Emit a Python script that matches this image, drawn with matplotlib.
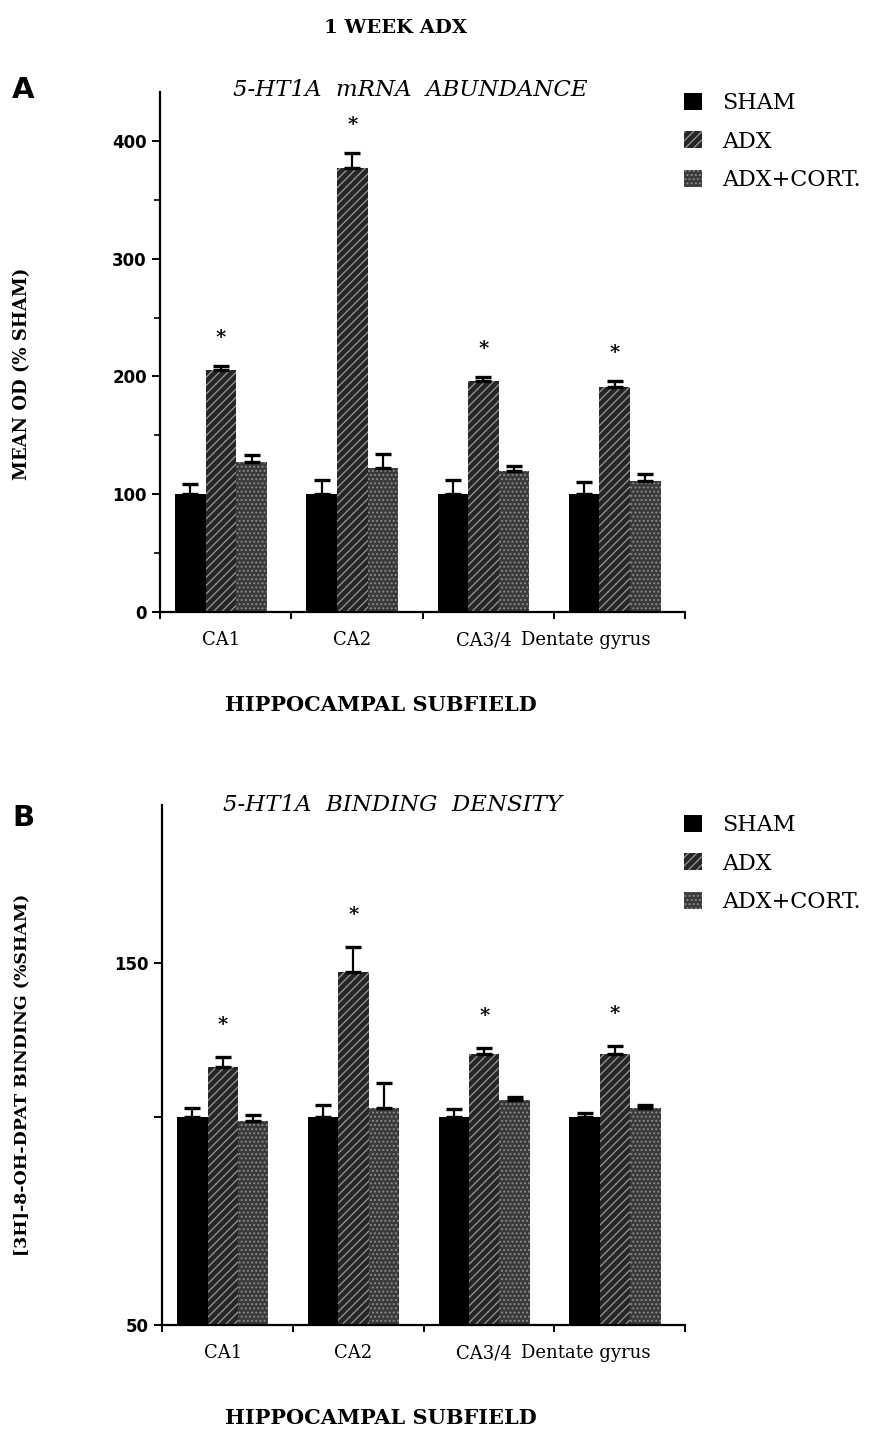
import matplotlib
matplotlib.use("Agg")
import matplotlib.pyplot as plt
from matplotlib.patches import Patch
import numpy as np

plt.rcParams["font.family"] = "DejaVu Serif"
plt.rcParams["hatch.linewidth"] = 0.9

# data
subfields = ["CA1", "CA2", "CA3/4", "Dentate gyrus"]
groups = ["SHAM", "ADX", "ADX+CORT."]

# panel A: 5-HT1A mRNA abundance (% sham)
a_sham = [100, 100, 100, 100]
a_sham_err = [8.5, 12, 12, 10.5]
a_adx = [205.5, 377, 196, 191.5]
a_adx_err = [3.7, 12.7, 3.4, 4.5]
a_cort = [127, 122, 120, 111]
a_cort_err = [6.3, 12.2, 4.2, 5.8]
a_signif = [True, True, True, True]   # ADX * marks
a_yticks = [0, 100, 200, 300, 400]
a_yminor = [50, 150, 250, 350]

# panel B: 5-HT1A binding density (% sham)
b_sham = [100, 100, 100, 100]
b_sham_err = [3.1, 4.0, 2.6, 1.2]
b_adx = [116.1, 147.2, 120.4, 120.4]
b_adx_err = [3.5, 8.0, 1.9, 2.7]
b_cort = [98.6, 102.8, 105.7, 103.0]
b_cort_err = [2.1, 8.1, 0.9, 0.8]
b_signif = [True, True, True, True]
b_yticks = [32.5, 100, 150]
b_yticklabels = ["50", "", "150"]

# bar styles
styles = [
    dict(facecolor="black", edgecolor="black", hatch=None),
    dict(facecolor="#262626", edgecolor="#9a9a9a", hatch="////"),
    dict(facecolor="#3a3a3a", edgecolor="#8c8c8c", hatch="...."),
]

W, H = 880, 1438
fig = plt.figure(figsize=(W / 100, H / 100), dpi=100)


def px_axes(left, top, right, bottom):
    return fig.add_axes([left / W, 1 - bottom / H, (right - left) / W, (bottom - top) / H])


def ftext(x, y, s, **kw):
    kw.setdefault("ha", "center")
    kw.setdefault("va", "center")
    return fig.text(x / W, 1 - y / H, s, **kw)


bar_w = 0.233
offset = 0.115
label_shift = [0, 0, 0, -0.22]   # long last label sits a bit left in the original
tick_font = dict(family="DejaVu Sans", fontweight="bold", fontsize=12)


def draw_panel(ax, series, errs, signif, ylim, star_off):
    x = np.arange(len(subfields))
    for j, (vals, err) in enumerate(zip(series, errs)):
        xs = x + offset + bar_w * (j + 0.5)
        st = styles[j]
        ax.bar(xs, vals, width=bar_w, align="center", facecolor=st["facecolor"],
               edgecolor=st["edgecolor"], hatch=st["hatch"], linewidth=0, zorder=2)
        ax.errorbar(xs, vals, yerr=[np.zeros(len(vals)), err], fmt="none",
                    ecolor="black", elinewidth=1.6, capsize=6, capthick=2.4, zorder=3)
        if j == 1:
            for k in range(len(vals)):
                if signif[k]:
                    ax.annotate("*", (xs[k], vals[k] + err[k]), xytext=(0, star_off),
                                textcoords="offset points", ha="center", va="center",
                                fontsize=14, fontweight="bold")
    ax.set_xlim(0, len(subfields))
    ax.set_ylim(*ylim)
    ax.spines["top"].set_visible(False)
    ax.spines["right"].set_visible(False)
    ax.spines["left"].set_linewidth(1.6)
    ax.spines["bottom"].set_linewidth(1.6)
    ax.set_xticks(np.arange(len(subfields) + 1))
    ax.set_xticklabels([])
    ax.set_xticks(x + offset + 1.5 * bar_w + np.array(label_shift), minor=True)
    ax.set_xticklabels(subfields, minor=True, fontsize=13)
    ax.tick_params(axis="x", which="major", direction="out", length=5, width=1.4)
    ax.tick_params(axis="x", which="minor", length=0, pad=14)
    ax.tick_params(axis="y", which="major", direction="out", length=6, width=1.4)


# panel A
axA = px_axes(160, 92, 685, 612)
draw_panel(axA, [a_sham, a_adx, a_cort], [a_sham_err, a_adx_err, a_cort_err],
           a_signif, (0, 441.6), 20)
axA.set_yticks(a_yticks)
axA.set_yticklabels([str(v) for v in a_yticks], **tick_font)
axA.set_yticks(a_yminor, minor=True)
axA.tick_params(axis="y", which="minor", direction="out", length=4, width=1.2)

# panel B
axB = px_axes(162, 805, 685, 1325)
draw_panel(axB, [b_sham, b_adx, b_cort], [b_sham_err, b_adx_err, b_cort_err],
           b_signif, (32.5, 201.3), 23)
axB.set_yticks(b_yticks)
axB.set_yticklabels(b_yticklabels, **tick_font)

# texts
ftext(396, 28, "1 WEEK ADX", fontsize=14, fontweight="bold")
ftext(12, 90, "A", ha="left", fontsize=21, fontweight="bold", family="DejaVu Sans")
ftext(12, 818, "B", ha="left", fontsize=21, fontweight="bold", family="DejaVu Sans")
ftext(410, 90, "5-HT1A  mRNA  ABUNDANCE", fontsize=16.5, style="italic")
ftext(392, 805, "5-HT1A  BINDING  DENSITY", fontsize=16.5, style="italic")
ftext(22, 374, "MEAN OD (% SHAM)", rotation=90, fontsize=13, fontweight="bold")
ftext(22, 1075, "[3H]-8-OH-DPAT BINDING (%SHAM)", rotation=90, fontsize=12.5, fontweight="bold")
ftext(381, 705, "HIPPOCAMPAL SUBFIELD", fontsize=15, fontweight="bold")
ftext(381, 1418, "HIPPOCAMPAL SUBFIELD", fontsize=15, fontweight="bold")

handles = [Patch(facecolor=s["facecolor"], edgecolor=s["edgecolor"], hatch=s["hatch"], linewidth=0)
           for s in styles]
for top in (83, 805):
    fig.legend(handles, groups, loc="upper left", bbox_to_anchor=(675 / W, 1 - top / H),
               frameon=False, fontsize=16, handlelength=0.8, handleheight=0.8,
               labelspacing=0.75, handletextpad=0.9, borderaxespad=0)

fig.savefig("out.png", dpi=100)
